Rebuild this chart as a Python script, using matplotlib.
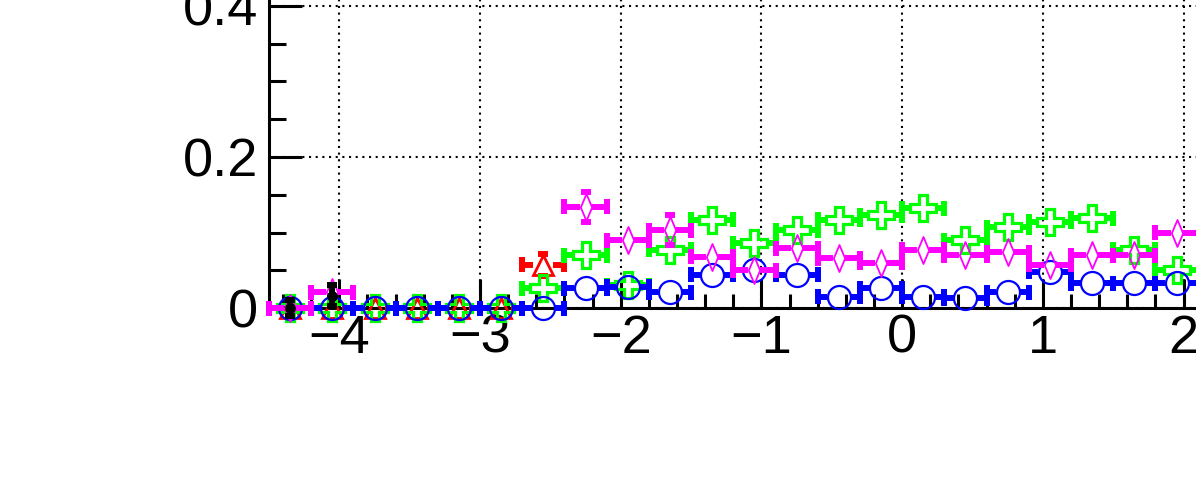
#!/usr/bin/env python3
import numpy as np
import matplotlib
matplotlib.use("Agg")
import matplotlib.pyplot as plt
from matplotlib.collections import LineCollection
from matplotlib.path import Path

plt.rcParams['font.family'] = ['Liberation Sans', 'DejaVu Sans']

# bin centres (bin width 0.3)
centers = [-4.35, -4.05, -3.75, -3.45, -3.15, -2.85, -2.55, -2.25, -1.95, -1.65,
           -1.35, -1.05, -0.75, -0.45, -0.15, 0.15, 0.45, 0.75, 1.05, 1.35,
           1.65, 1.95, 2.25]
half_width = 0.15

blue_y = [0, 0, 0, 0, 0, 0, 0, 0.026, 0.028, 0.021, 0.044, 0.050, 0.044, 0.015,
          0.026, 0.015, 0.013, 0.021, 0.048, 0.033, 0.033, 0.033, 0.028]
blue_err = [0, 0, 0, 0, 0, 0, 0, 0.008, 0.008, 0.008, 0.01, 0.01, 0.01, 0.006,
            0.008, 0.006, 0.006, 0.008, 0.01, 0.008, 0.008, 0.008, 0.008]

green_y = [0, 0, 0, 0, 0, 0, 0.026, 0.070, 0.030, 0.077, 0.117, 0.086, 0.103,
           0.117, 0.123, 0.132, 0.090, 0.107, 0.114, 0.119, 0.077, 0.050, 0.060]
green_err = [0, 0, 0, 0, 0, 0, 0.008, 0.012, 0.008, 0.012, 0.015, 0.012, 0.014,
             0.015, 0.015, 0.016, 0.013, 0.014, 0.015, 0.015, 0.012, 0.01, 0.011]

magenta_x = [-4.35, -4.05, -2.25, -1.95, -1.65, -1.35, -1.05, -0.75, -0.45, -0.15,
             0.15, 0.45, 0.75, 1.05, 1.35, 1.65, 1.95, 2.25]
magenta_y = [0, 0.021, 0.134, 0.090, 0.103, 0.068, 0.050, 0.079, 0.066, 0.060,
             0.077, 0.070, 0.074, 0.057, 0.070, 0.070, 0.100, 0.130]
magenta_err = [0, 0.01, 0.02, 0.017, 0.02, 0.017, 0.015, 0.015, 0.014, 0.014,
               0.015, 0.015, 0.015, 0.013, 0.015, 0.015, 0.017, 0.02]

red_x = [-4.35, -4.05, -3.75, -3.45, -3.15, -2.85, -2.55]
red_y = [0, 0, 0, 0, 0, 0, 0.057]
red_err = [0, 0, 0, 0, 0, 0, 0.015]

black_x = [-4.35, -4.05]
black_y = [0, 0.016]
black_err = [0.011, 0.014]

x_major = [-4, -3, -2, -1, 0, 1, 2]
x_labels = ['\u22124', '\u22123', '\u22122', '\u22121', '0', '1', '2']
y_major = [0, 0.2, 0.4]
y_labels = ['0', '0.2', '0.4']

LW = 4.3          # error bar line width (pt)
END_CAP_PX = 7.5  # half height of caps at bin edges
TOP_CAP_PX = 5.0  # half width of caps on vertical errors

thin_diamond = Path([(0, 1), (0.42, 0), (0, -1), (-0.42, 0), (0, 1)],
                    [Path.MOVETO, Path.LINETO, Path.LINETO, Path.LINETO, Path.CLOSEPOLY])


def draw_series(ax, x, y, yerr, color, marker, ms_px, gap_x_px, gap_y_px, mew,
                zorder, hbars=True):
    sx, sy = ax.transData.transform((1, 1)) - ax.transData.transform((0, 0))
    gx, gy = gap_x_px / sx, gap_y_px / sy
    ecap_y = END_CAP_PX / sy
    tcap_x = TOP_CAP_PX / sx
    segs = []
    for xi, yi, ei in zip(x, y, yerr):
        if hbars:
            segs.append([(xi - half_width, yi), (xi - gx, yi)])
            segs.append([(xi + gx, yi), (xi + half_width, yi)])
            segs.append([(xi - half_width, yi - ecap_y), (xi - half_width, yi + ecap_y)])
            segs.append([(xi + half_width, yi - ecap_y), (xi + half_width, yi + ecap_y)])
        if ei > gy:
            for s in (1, -1):
                segs.append([(xi, yi + s * gy), (xi, yi + s * ei)])
                segs.append([(xi - tcap_x, yi + s * ei), (xi + tcap_x, yi + s * ei)])
    lc = LineCollection(segs, colors=color, linewidths=LW, capstyle='butt',
                        zorder=zorder, clip_on=False)
    ax.add_collection(lc)
    ax.plot(x, y, linestyle='none', marker=marker, ms=ms_px * 0.72,
            mfc='none', mec=color, mew=mew, zorder=zorder + 0.5, clip_on=False)


fig = plt.figure(figsize=(11.96, 4.93), dpi=100)
W, H = 1196.0, 493.0
px_per_x = 140.7
px_per_y = 755.0
xmin, xmax = -4.5, 4.5
ymin, ymax = 0.0, 0.5
ax = fig.add_axes([269 / W, (H - 308) / H,
                   (xmax - xmin) * px_per_x / W, (ymax - ymin) * px_per_y / H])
ax.set_xlim(xmin, xmax)
ax.set_ylim(ymin, ymax)

for s in ['top', 'right']:
    ax.spines[s].set_visible(False)
for s in ['left', 'bottom']:
    ax.spines[s].set_linewidth(2.2)

ax.set_xticks(x_major)
ax.set_xticklabels(x_labels)
ax.set_xticks(np.arange(-4.4, 2.3, 0.2), minor=True)
ax.set_yticks(y_major)
ax.set_yticklabels(y_labels)
ax.set_yticks(np.arange(0, 0.51, 0.05), minor=True)
ax.tick_params(axis='x', which='major', direction='in', length=21, width=2.2,
               labelsize=39, pad=4)
ax.tick_params(axis='x', which='minor', direction='in', length=10, width=2.2)
ax.tick_params(axis='y', which='major', direction='in', length=24, width=2.2,
               labelsize=39, pad=8)
ax.tick_params(axis='y', which='minor', direction='in', length=12, width=2.2)

ax.grid(True, which='major', color='black', linestyle=(0, (1, 2.2)), linewidth=1.5)

draw_series(ax, red_x, red_y, red_err, '#ff0000', '^', 20, 10, 10, 2.0, 3)
draw_series(ax, centers, green_y, green_err, '#00ff00', 'P', 27, 13, 13, 2.3, 4)
draw_series(ax, centers, blue_y, blue_err, '#0000ff', 'o', 23, 11.5, 11.5, 1.6, 5)
draw_series(ax, magenta_x, magenta_y, magenta_err, '#ff00ff', thin_diamond, 27, 6, 13.5, 1.3, 6)
draw_series(ax, black_x, black_y, black_err, 'black', 'o', 9, 4, 4, 1.0, 7, hbars=False)
ax.plot(black_x, black_y, linestyle='none', marker='o', ms=9 * 0.72, color='black',
        zorder=7.6, clip_on=False)

fig.savefig("out.png", dpi=100)
